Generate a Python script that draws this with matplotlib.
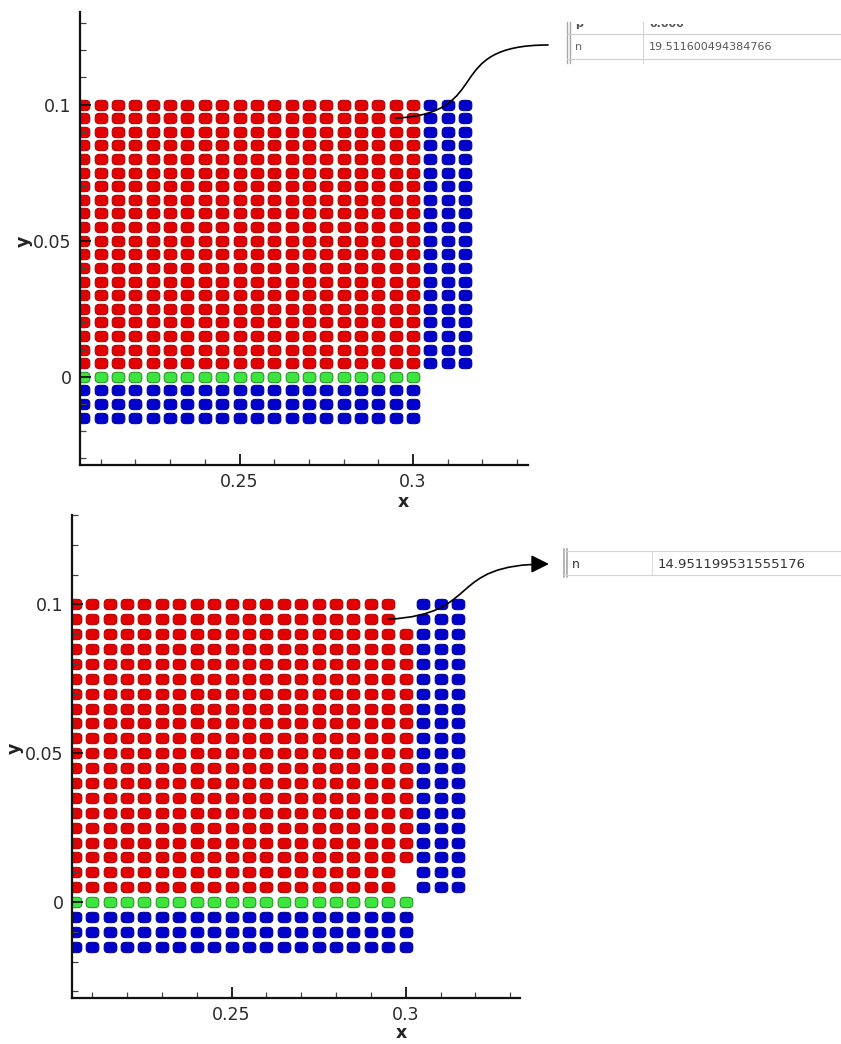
import numpy as np
import matplotlib
matplotlib.use("Agg")
import matplotlib.pyplot as plt
from matplotlib.path import Path
from matplotlib.patches import FancyArrowPatch
from matplotlib.lines import Line2D
from matplotlib.transforms import Bbox, TransformedBbox
from matplotlib.ticker import FixedLocator, FixedFormatter, MultipleLocator

# ---------------- data ----------------
fluid_x_top = [0.205, 0.210, 0.215, 0.220, 0.225, 0.230, 0.235, 0.240, 0.245, 0.250,
               0.255, 0.260, 0.265, 0.270, 0.275, 0.280, 0.285, 0.290, 0.295, 0.300]
fluid_y = [0.005, 0.010, 0.015, 0.020, 0.025, 0.030, 0.035, 0.040, 0.045, 0.050,
           0.055, 0.060, 0.065, 0.070, 0.075, 0.080, 0.085, 0.090, 0.095, 0.100]
wall_x = [0.305, 0.310, 0.315]
wall_y = fluid_y
bed_x = fluid_x_top
bed_y = [0.0]
floor_x = fluid_x_top
floor_y = [-0.005, -0.010, -0.015]

fluid_x_bottom = [0.205, 0.210, 0.215, 0.220, 0.225, 0.230, 0.235, 0.240, 0.245, 0.250,
                  0.255, 0.260, 0.265, 0.270, 0.275, 0.280, 0.285, 0.290, 0.295]
front_x_bottom = [0.300]
front_y_bottom = [0.015, 0.020, 0.025, 0.030, 0.035, 0.040, 0.045, 0.050,
                  0.055, 0.060, 0.065, 0.070, 0.075, 0.080, 0.085, 0.090]

probe_x, probe_y = 0.295, 0.095
n_top = "19.511600494384766"
n_bottom = "14.951199531555176"

x_ticks = [0.25, 0.3]
x_tick_labels = ["0.25", "0.3"]
y_ticks = [0.0, 0.05, 0.1]
y_tick_labels = ["0", "0.05", "0.1"]

# ---------------- figure ----------------
W, H = 841, 1044
fig = plt.figure(figsize=(W / 100, H / 100), dpi=100)
fig.patch.set_facecolor("white")


def ax_box(l, r, t, b):
    return [l / W, 1 - b / H, (r - l) / W, (b - t) / H]


def fx(x):
    return x / W


def fy(y):
    return 1 - y / H


# rounded-rectangle marker (wider than tall)
_t = np.linspace(0, 2 * np.pi, 72)
_mx = 1.22 * np.sign(np.cos(_t)) * np.abs(np.cos(_t)) ** 0.6
_my = 1.0 * np.sign(np.sin(_t)) * np.abs(np.sin(_t)) ** 0.6
rmark = Path(np.column_stack([_mx, _my]), closed=True)

RED = dict(facecolor="#e30000", edgecolor="#a80000")
BLUE = dict(facecolor="#0000cc", edgecolor="#00008a")
GREEN = dict(facecolor="#3ee43e", edgecolor="#1e8e1e")


def grid(xs, ys):
    X, Y = np.meshgrid(xs, ys)
    return X.ravel(), Y.ravel()


def style_axes(ax, xlim, ylim, xlab_pos, ylab_pos):
    ax.set_xlim(*xlim)
    ax.set_ylim(*ylim)
    for s in ("top", "right"):
        ax.spines[s].set_visible(False)
    for s in ("left", "bottom"):
        ax.spines[s].set_linewidth(1.6)
        ax.spines[s].set_color("#111111")
    ax.xaxis.set_major_locator(FixedLocator(x_ticks))
    ax.xaxis.set_major_formatter(FixedFormatter(x_tick_labels))
    ax.yaxis.set_major_locator(FixedLocator(y_ticks))
    ax.yaxis.set_major_formatter(FixedFormatter(y_tick_labels))
    ax.xaxis.set_minor_locator(MultipleLocator(0.01))
    ax.yaxis.set_minor_locator(MultipleLocator(0.01))
    ax.tick_params(which="major", direction="in", length=8, width=1.3,
                   color="#111111", labelsize=12.5, labelcolor="#2a2a2a")
    ax.tick_params(which="minor", direction="in", length=4, width=0.9, color="#444444")
    ax.tick_params(axis="x", which="major", pad=6)
    ax.tick_params(axis="y", which="major", pad=6)
    ax.set_xlabel("x", fontsize=12.5, fontweight="bold", color="#222222")
    ax.set_ylabel("y", fontsize=12.5, fontweight="bold", color="#222222")
    ax.xaxis.set_label_coords(*xlab_pos)
    ax.yaxis.set_label_coords(*ylab_pos)
    ax.xaxis.label.set_verticalalignment("center")
    ax.yaxis.label.set_verticalalignment("center")
    ax.yaxis.label.set_horizontalalignment("center")


MS = 84
LW = 0.7

# ---------------- top panel ----------------
ax1 = fig.add_axes(ax_box(80, 528, 12, 465))
x, y = grid(fluid_x_top, fluid_y)
ax1.scatter(x, y, s=MS, marker=rmark, linewidths=LW, **RED)
x, y = grid(wall_x, wall_y)
ax1.scatter(x, y, s=MS, marker=rmark, linewidths=LW, **BLUE)
x, y = grid(bed_x, bed_y)
ax1.scatter(x, y, s=MS, marker=rmark, linewidths=LW, **GREEN)
x, y = grid(floor_x, floor_y)
ax1.scatter(x, y, s=MS, marker=rmark, linewidths=LW, **BLUE)
style_axes(ax1, (0.2040, 0.3332), (-0.0324, 0.134),
           ((403 - 80) / 448, (465 - 502) / 453),
           ((24 - 80) / 448, (465 - 241) / 453))

# ---------------- bottom panel ----------------
ax2 = fig.add_axes(ax_box(72, 520, 515, 998))
x, y = grid(fluid_x_bottom, fluid_y)
ax2.scatter(x, y, s=MS, marker=rmark, linewidths=LW, **RED)
x, y = grid(front_x_bottom, front_y_bottom)
ax2.scatter(x, y, s=MS, marker=rmark, linewidths=LW, **RED)
x, y = grid(wall_x, wall_y)
ax2.scatter(x, y, s=MS, marker=rmark, linewidths=LW, **BLUE)
x, y = grid(bed_x, bed_y)
ax2.scatter(x, y, s=MS, marker=rmark, linewidths=LW, **GREEN)
x, y = grid(floor_x, floor_y)
ax2.scatter(x, y, s=MS, marker=rmark, linewidths=LW, **BLUE)
style_axes(ax2, (0.2042, 0.3328), (-0.0322, 0.130),
           ((401 - 72) / 448, (998 - 1033) / 483),
           ((15 - 72) / 448, (998 - 748) / 483))


# ---------------- connector curves ----------------
def probe_px(ax):
    px, py = ax.transData.transform((probe_x, probe_y))
    return px, H - py


def curve(p0, c1, c2, p3, style):
    verts = [(fx(p[0]), fy(p[1])) for p in (p0, c1, c2, p3)]
    path = Path(verts, [Path.MOVETO, Path.CURVE4, Path.CURVE4, Path.CURVE4])
    arr = FancyArrowPatch(path=path, arrowstyle=style, mutation_scale=18,
                          color="black", linewidth=1.2, transform=fig.transFigure)
    fig.add_artist(arr)


p0 = probe_px(ax1)
curve(p0, (p0[0] + 100, p0[1] - 5), (440, 45), (548, 45), "-")
p0 = probe_px(ax2)
curve(p0, (p0[0] + 95, p0[1] - 5), (445, 564), (549, 564),
      "-|>,head_length=0.6,head_width=0.3")


# ---------------- property-grid snippets ----------------
def hline(y, x0, x1, color, lw=0.8):
    fig.add_artist(Line2D([fx(x0), fx(x1)], [fy(y), fy(y)], transform=fig.transFigure,
                          color=color, linewidth=lw))


def vline(x, y0, y1, color, lw=0.8):
    fig.add_artist(Line2D([fx(x), fx(x)], [fy(y0), fy(y1)], transform=fig.transFigure,
                          color=color, linewidth=lw))


# top snippet
vline(567, 22, 63, "#a8a8a8", 1.0)
vline(570, 22, 63, "#a8a8a8", 1.0)
vline(643, 22, 63, "#d6d6d6", 0.8)
hline(34, 567, 841, "#cfcfcf")
hline(59, 567, 841, "#d2d2d2")
clip = TransformedBbox(Bbox([[fx(567), fy(34)], [fx(841), fy(24)]]), fig.transFigure)
for tx, s in ((575, "p"), (649, "0.000")):
    t = fig.text(fx(tx), fy(24), s, fontsize=8, color="#555555", va="center",
                 fontweight="bold")
    t.set_clip_box(clip)
    t.set_clip_on(True)
fig.text(fx(575), fy(47), "n", fontsize=8, color="#666666", va="center")
fig.text(fx(649), fy(47), n_top, fontsize=8, color="#555555", va="center")

# bottom snippet
vline(564, 549, 577, "#a0a0a0", 1.1)
vline(567, 549, 577, "#a0a0a0", 1.1)
vline(652, 551, 575, "#dcdcdc", 0.8)
hline(551, 564, 841, "#d4d4d4")
hline(575, 564, 841, "#d4d4d4")
fig.text(fx(572), fy(564), "n", fontsize=9, color="#333333", va="center")
fig.text(fx(658), fy(564), n_bottom, fontsize=9.5, color="#333333", va="center")

fig.savefig("out.png", dpi=100, facecolor="white")
